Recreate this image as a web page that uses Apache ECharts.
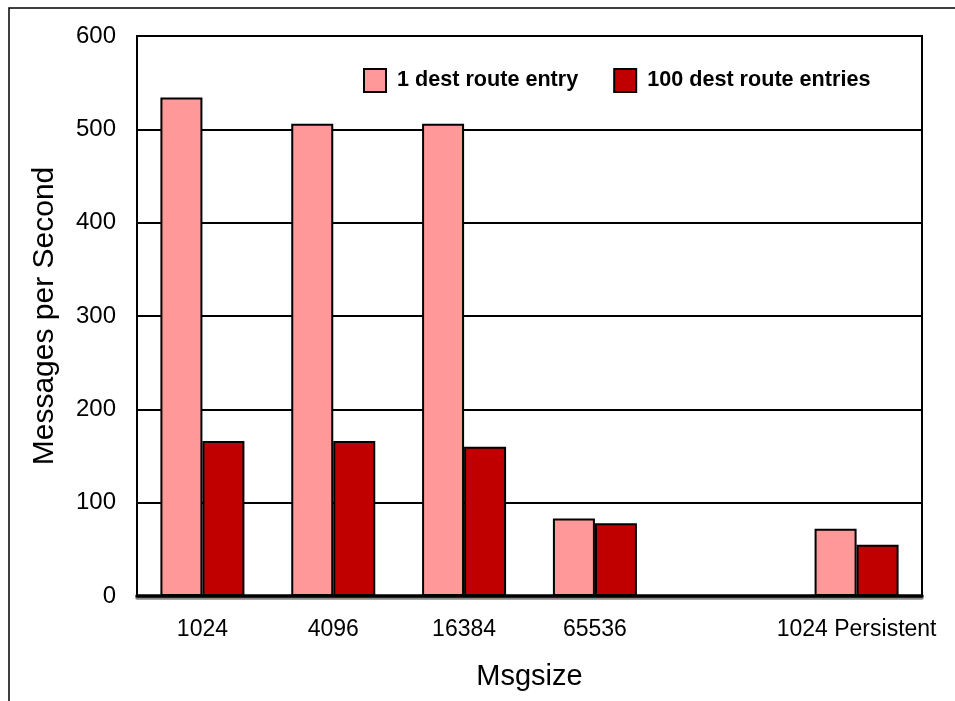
<!DOCTYPE html>
<html>
<head>
<meta charset="utf-8">
<script src="https://cdn.jsdelivr.net/npm/echarts@6/dist/echarts.min.js"></script>
<style>
  html, body { margin: 0; padding: 0; background: #fff; }
  #main { width: 955px; height: 701px; }
</style>
</head>
<body>
<div id="main"></div>
<script>
  // data
  var categories = ['1024', '4096', '16384', '65536', '', '1024 Persistent'];
  var oneDest = [534, 506, 506, 83, null, 72];
  var hundredDest = [166, 166, 160, 78, null, 55];
  var seriesNames = ['1 dest route entry', '100 dest route entries'];

  var font = "'Liberation Sans', Arial, sans-serif";

  var myChart = echarts.init(document.getElementById('main'));

  var option = {
    backgroundColor: '#fff',
    animation: false,
    graphic: [
      {
        type: 'rect',
        shape: { x: 9, y: 8, width: 980, height: 720 },
        style: { fill: 'none', stroke: '#000', lineWidth: 1.5 },
        silent: true
      }
    ],
    grid: {
      left: 137,
      right: 33,
      top: 36,
      bottom: 105,
      show: true,
      borderColor: '#000',
      borderWidth: 2,
      backgroundColor: 'transparent'
    },
    legend: {
      left: 358,
      top: 63,
      itemWidth: 22,
      itemHeight: 23,
      itemGap: 35,
      icon: 'rect',
      textStyle: {
        fontFamily: font,
        fontWeight: 'bold',
        fontSize: 21.6,
        color: '#000',
        padding: [0, 0, 0, 6]
      },
      data: seriesNames
    },
    xAxis: {
      type: 'category',
      data: categories,
      name: 'Msgsize',
      nameLocation: 'middle',
      nameGap: 66,
      nameTextStyle: { fontFamily: font, fontSize: 29, color: '#000' },
      axisLine: { lineStyle: { color: '#000', width: 3.5, shadowColor: '#888', shadowOffsetY: 2 } },
      axisTick: { show: false },
      axisLabel: { interval: 0, fontFamily: font, fontSize: 23, color: '#000', margin: 22 }
    },
    yAxis: {
      type: 'value',
      min: 0,
      max: 600,
      interval: 100,
      name: 'Messages per Second',
      nameLocation: 'middle',
      nameGap: 77,
      nameTextStyle: { fontFamily: font, fontSize: 30, color: '#000' },
      axisLine: { show: false },
      axisTick: { show: false },
      axisLabel: { fontFamily: font, fontSize: 24, color: '#000', margin: 21 },
      splitLine: { lineStyle: { color: '#000', width: 2 } }
    },
    series: [
      {
        name: seriesNames[0],
        type: 'bar',
        data: oneDest,
        barWidth: 42,
        barGap: '0%',
        itemStyle: { color: '#FF9999', borderColor: '#000', borderWidth: 2 }
      },
      {
        name: seriesNames[1],
        type: 'bar',
        data: hundredDest,
        barWidth: 42,
        barGap: '0%',
        itemStyle: { color: '#C00000', borderColor: '#000', borderWidth: 2 }
      }
    ]
  };

  myChart.setOption(option);
</script>
</body>
</html>
